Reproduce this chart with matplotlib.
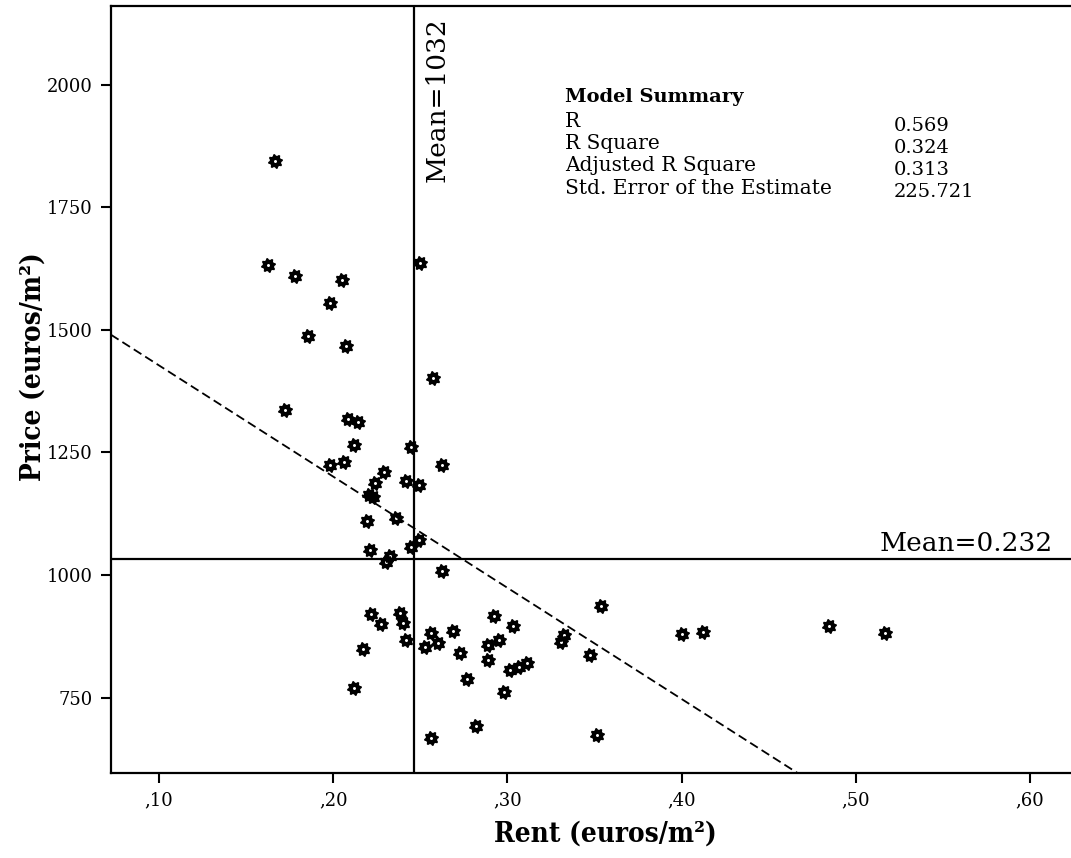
import numpy as np
import matplotlib
matplotlib.use("Agg")
import matplotlib.pyplot as plt
from matplotlib.path import Path

# Rent (euros/m2) and price (euros/m2) per observation
rent = [0.1664, 0.1626, 0.1780, 0.2049, 0.1982, 0.1853, 0.2072, 0.1724, 0.2084, 0.2141,
        0.2118, 0.2064, 0.1983, 0.2501, 0.2572, 0.2449, 0.2626, 0.2289, 0.2416, 0.2491,
        0.2241, 0.2203, 0.2226, 0.2193, 0.2358, 0.2493, 0.2445, 0.2214, 0.2329, 0.2305,
        0.2626, 0.2218, 0.2272, 0.2383, 0.2401, 0.2420, 0.2170, 0.2118, 0.2564, 0.2528,
        0.2603, 0.2687, 0.2727, 0.2766, 0.2820, 0.2564, 0.2926, 0.3033, 0.2887, 0.2950,
        0.2887, 0.2978, 0.3018, 0.3068, 0.3112, 0.3539, 0.3324, 0.3310, 0.3477, 0.3514,
        0.4000, 0.4125, 0.4849, 0.5170]
price = [1845, 1633, 1610, 1602, 1554, 1488, 1466, 1337, 1319, 1312,
         1266, 1230, 1224, 1637, 1402, 1262, 1225, 1211, 1191, 1184,
         1188, 1163, 1159, 1111, 1117, 1072, 1057, 1052, 1038, 1027,
         1009, 921, 901, 923, 902, 867, 850, 770, 882, 853,
         861, 886, 841, 788, 693, 667, 917, 897, 857, 868,
         826, 761, 806, 812, 821, 938, 878, 863, 838, 675,
         880, 884, 897, 882]

# Reference lines and fitted line
mean_rent_pos = 0.2463
mean_price = 1032
fit_intercept = 1654.0
fit_slope = -2266.0

x_ticks = [0.10, 0.20, 0.30, 0.40, 0.50, 0.60]
x_tick_labels = [",10", ",20", ",30", ",40", ",50", ",60"]
y_ticks = [750, 1000, 1250, 1500, 1750, 2000]
y_tick_labels = ["750", "1000", "1250", "1500", "1750", "2000"]

summary_labels = ["R", "R Square", "Adjusted R Square", "Std. Error of the Estimate"]
summary_values = ["0.569", "0.324", "0.313", "225.721"]


def gear_marker(teeth=8, r_out=1.0, r_in=0.78, r_hole=0.2):
    """Star/gear shaped marker with a small hollow centre."""
    n = teeth * 2
    ang = np.linspace(0, 2 * np.pi, n * 2, endpoint=False) + np.pi / n / 2
    radii = np.array([r_out if (i // 2) % 2 == 0 else r_in for i in range(n * 2)])
    outer = np.column_stack([radii * np.cos(ang), radii * np.sin(ang)])
    t = np.linspace(0, 2 * np.pi, 24, endpoint=False)[::-1]
    hole = np.column_stack([r_hole * np.cos(t), r_hole * np.sin(t)])
    verts = np.concatenate([outer, outer[:1], hole, hole[:1]])
    codes = ([Path.MOVETO] + [Path.LINETO] * (len(outer) - 1) + [Path.CLOSEPOLY]
             + [Path.MOVETO] + [Path.LINETO] * (len(hole) - 1) + [Path.CLOSEPOLY])
    return Path(verts, codes)


plt.rcParams["font.family"] = ["DejaVu Serif"]

fig = plt.figure(figsize=(10.71, 8.58), dpi=100)
ax = fig.add_axes([0.1036, 0.0987, 0.91, 0.8943])

xmin, xmax = 0.0724, 0.632
ymin, ymax = 596, 2160
ax.set_xlim(xmin, xmax)
ax.set_ylim(ymin, ymax)

# Mean reference lines
ax.axvline(mean_rent_pos, color="black", lw=1.6, zorder=2)
ax.axhline(mean_price, color="black", lw=1.6, zorder=2)

# Fitted regression line
xs = np.array([xmin, xmax])
ax.plot(xs, fit_intercept + fit_slope * xs, color="black", lw=1.3,
        ls=(0, (5, 2.5)), zorder=3)

ax.scatter(rent, price, marker=gear_marker(), s=115, color="black",
           linewidths=0, zorder=4)

ax.set_xticks(x_ticks)
ax.set_xticklabels(x_tick_labels)
ax.set_yticks(y_ticks)
ax.set_yticklabels(y_tick_labels)
ax.tick_params(axis="both", direction="out", length=7, width=1.5,
               labelsize=13, pad=6)

for side in ["left", "bottom", "top", "right"]:
    ax.spines[side].set_linewidth(1.6)

ax.set_xlabel("Rent (euros/m²)", fontsize=20, fontweight="bold",
              fontstretch="condensed")
ax.set_ylabel("Price (euros/m²)", fontsize=20, fontweight="bold",
              fontstretch="condensed")
ax.xaxis.set_label_coords(0.507, -0.062)
ax.yaxis.set_label_coords(-0.066, 0.53)

# Mean annotations
ax.annotate("Mean=1032", xy=(0.2525, ymax), xytext=(0, -8),
            textcoords="offset points", rotation=90, ha="left", va="top",
            fontsize=19)
ax.text(0.6135, mean_price + 6, "Mean=0.232", ha="right", va="bottom",
        fontsize=19)

# Model summary block
tx_label, tx_value = 0.3330, 0.5220
ax.text(tx_label, 1975, "Model Summary", fontsize=14, fontweight="bold",
        ha="left", va="center")
row_y = [1925, 1879, 1834, 1789]
for lab, val, yv in zip(summary_labels, summary_values, row_y):
    ax.text(tx_label, yv, lab, fontsize=14.5, ha="left", va="center")
    ax.text(tx_value, yv - 9, val, fontsize=14, ha="left", va="center")

fig.savefig("out.png", dpi=100)
